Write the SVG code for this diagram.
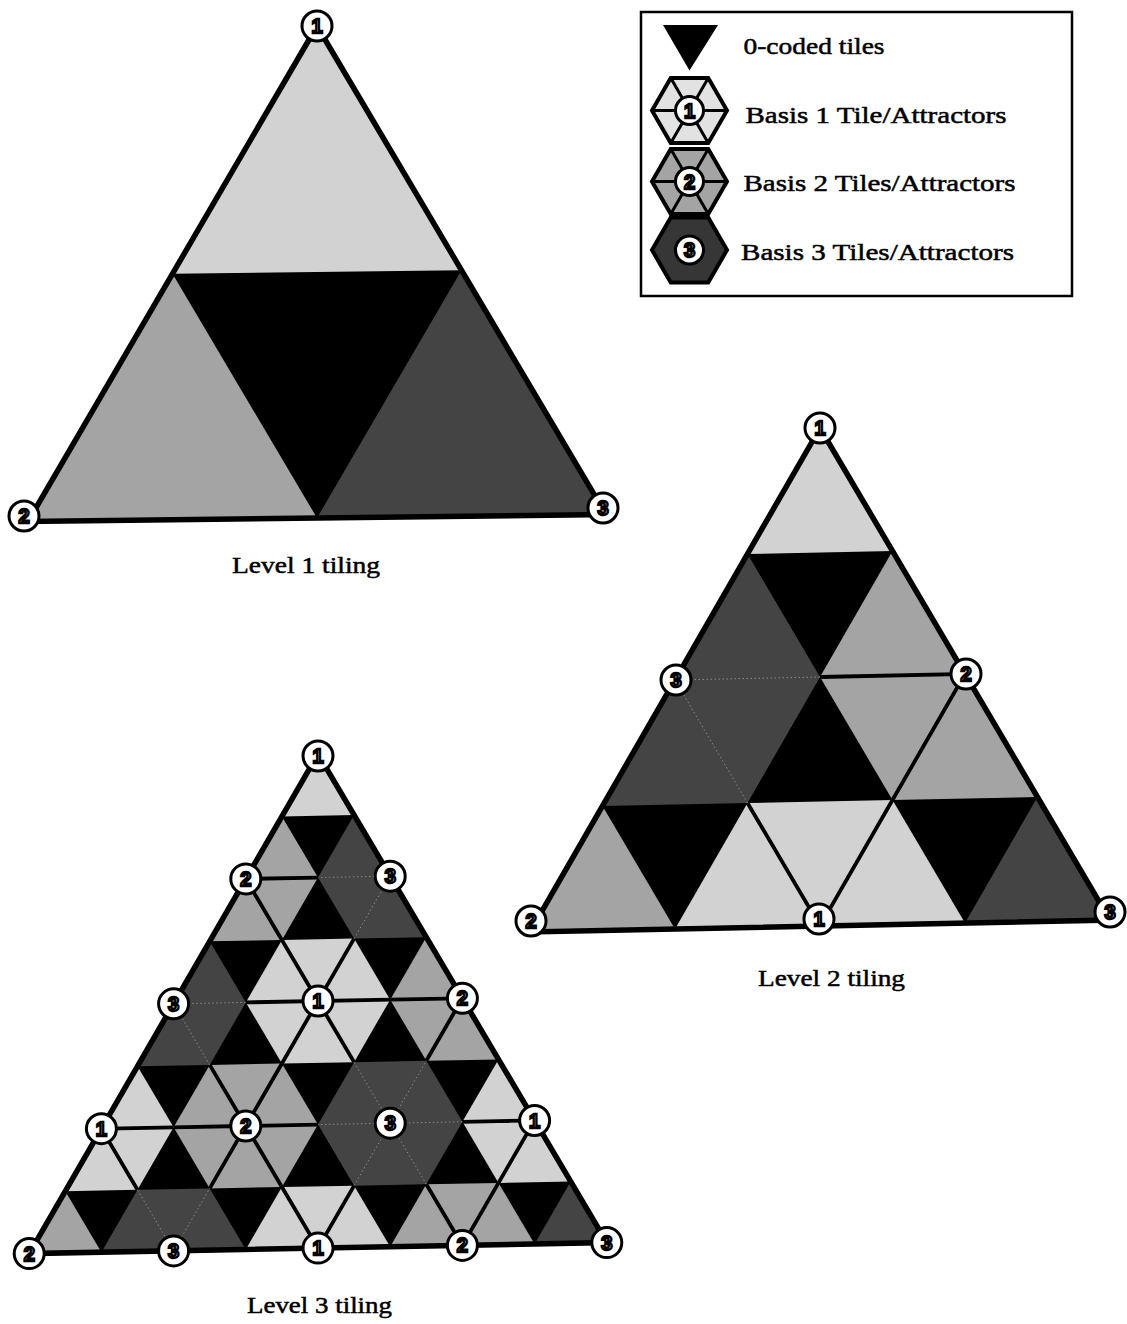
<svg xmlns="http://www.w3.org/2000/svg" width="1127" height="1324" viewBox="0 0 1127 1324">
<style>
.bg{fill:#000}
.L{fill:#d2d2d2}
.LL{fill:#e2e2e2}
.M{fill:#a4a4a4}
.D{fill:#444}
.DD{fill:#363636}
.sp{fill:none;stroke:#000;stroke-width:3.8}
.sp3{fill:none;stroke:#8c8c8c;stroke-width:1;stroke-dasharray:1.5 2.5}
.bd{fill:none;stroke:#000;stroke-width:5.5;stroke-linejoin:miter;vector-effect:non-scaling-stroke}
.c{fill:#fff;stroke:#000;stroke-width:3}
.d{font-family:"Liberation Sans",Arial,sans-serif;font-weight:bold;font-size:20px;fill:#fff;stroke:#000;stroke-width:2.3;text-anchor:middle}
.t{font-family:"Liberation Serif","Times New Roman",serif;font-size:24px;fill:#000;stroke:#000;stroke-width:0.5}
.hxo{stroke:#000;stroke-width:4;stroke-linejoin:miter}
.lsp{stroke:#000;stroke-width:3}
</style>
<defs>
<polygon id="hx" points="1,0 1,1 0,1 -1,0 -1,-1 0,-1"/>
<path id="spk" vector-effect="non-scaling-stroke" d="M1,0L-1,0M1,1L-1,-1M0,1L0,-1"/>
<clipPath id="c1"><polygon points="0,0 0,2 2,2"/></clipPath>
<clipPath id="c2"><polygon points="0,0 0,4 4,4"/></clipPath>
<clipPath id="c3"><polygon points="0,0 0,8 8,8"/></clipPath>
</defs>

<!-- Level 1 -->
<g id="level1">
<g transform="matrix(289,-3.5,-144.5,247.75,317,26)">
<polygon class="bg" points="0,0 0,2 2,2"/>
<g clip-path="url(#c1)">
<g id="l1-a1"><use href="#hx" class="L"/></g>
<g id="l1-a2"><use href="#hx" class="M" transform="translate(0,2)"/></g>
<g id="l1-a3"><use href="#hx" class="D" transform="translate(2,2)"/></g>
</g>
<polygon class="bd" points="0,0 0,2 2,2"/>
</g>
<g id="l1-v1"><circle class="c" cx="317" cy="26" r="15"/><text class="d" x="317" y="33">1</text></g>
<g id="l1-v2"><circle class="c" cx="24" cy="516" r="15"/><text class="d" x="24" y="523">2</text></g>
<g id="l1-v3"><circle class="c" cx="603" cy="508" r="15"/><text class="d" x="603" y="515">3</text></g>
<text class="t" x="232" y="573" textLength="148" lengthAdjust="spacingAndGlyphs">Level 1 tiling</text>
</g>

<!-- Level 2 -->
<g id="level2">
<g transform="matrix(145,-3,-72.5,126,820,428)">
<polygon class="bg" points="0,0 0,4 4,4"/>
<g clip-path="url(#c2)">
<g id="l2-a00"><use href="#hx" class="L"/></g>
<g id="l2-a02"><use href="#hx" class="D" transform="translate(0,2)"/><use href="#spk" class="sp3" transform="translate(0,2)"/></g>
<g id="l2-a22"><use href="#hx" class="M" transform="translate(2,2)"/><use href="#spk" class="sp" transform="translate(2,2)"/></g>
<g id="l2-a04"><use href="#hx" class="M" transform="translate(0,4)"/></g>
<g id="l2-a24"><use href="#hx" class="L" transform="translate(2,4)"/><use href="#spk" class="sp" transform="translate(2,4)"/></g>
<g id="l2-a44"><use href="#hx" class="D" transform="translate(4,4)"/></g>
</g>
<polygon class="bd" points="0,0 0,4 4,4"/>
</g>
<g id="l2-v00"><circle class="c" cx="820" cy="428" r="15"/><text class="d" x="820" y="435">1</text></g>
<g id="l2-v02"><circle class="c" cx="676" cy="680" r="15"/><text class="d" x="676" y="687">3</text></g>
<g id="l2-v22"><circle class="c" cx="966" cy="674" r="15"/><text class="d" x="966" y="681">2</text></g>
<g id="l2-v04"><circle class="c" cx="531" cy="921" r="15"/><text class="d" x="531" y="928">2</text></g>
<g id="l2-v24"><circle class="c" cx="819" cy="919" r="15"/><text class="d" x="819" y="926">1</text></g>
<g id="l2-v44"><circle class="c" cx="1110" cy="912" r="15"/><text class="d" x="1110" y="919">3</text></g>
<text class="t" x="758" y="986" textLength="147" lengthAdjust="spacingAndGlyphs">Level 2 tiling</text>
</g>

<!-- Level 3 -->
<g id="level3">
<g transform="matrix(72.2,-1.375,-36.1,62.45,318,754)">
<polygon class="bg" points="0,0 0,8 8,8"/>
<g clip-path="url(#c3)">
<g id="l3-a00"><use href="#hx" class="L"/></g>
<g id="l3-a02"><use href="#hx" class="M" transform="translate(0,2)"/><use href="#spk" class="sp" transform="translate(0,2)"/></g>
<g id="l3-a22"><use href="#hx" class="D" transform="translate(2,2)"/><use href="#spk" class="sp3" transform="translate(2,2)"/></g>
<g id="l3-a04"><use href="#hx" class="D" transform="translate(0,4)"/><use href="#spk" class="sp3" transform="translate(0,4)"/></g>
<g id="l3-a24"><use href="#hx" class="L" transform="translate(2,4)"/><use href="#spk" class="sp" transform="translate(2,4)"/></g>
<g id="l3-a44"><use href="#hx" class="M" transform="translate(4,4)"/><use href="#spk" class="sp" transform="translate(4,4)"/></g>
<g id="l3-a06"><use href="#hx" class="L" transform="translate(0,6)"/><use href="#spk" class="sp" transform="translate(0,6)"/></g>
<g id="l3-a26"><use href="#hx" class="M" transform="translate(2,6)"/><use href="#spk" class="sp" transform="translate(2,6)"/></g>
<g id="l3-a46"><use href="#hx" class="D" transform="translate(4,6)"/><use href="#spk" class="sp3" transform="translate(4,6)"/></g>
<g id="l3-a66"><use href="#hx" class="L" transform="translate(6,6)"/><use href="#spk" class="sp" transform="translate(6,6)"/></g>
<g id="l3-a08"><use href="#hx" class="M" transform="translate(0,8)"/></g>
<g id="l3-a28"><use href="#hx" class="D" transform="translate(2,8)"/><use href="#spk" class="sp3" transform="translate(2,8)"/></g>
<g id="l3-a48"><use href="#hx" class="L" transform="translate(4,8)"/><use href="#spk" class="sp" transform="translate(4,8)"/></g>
<g id="l3-a68"><use href="#hx" class="M" transform="translate(6,8)"/><use href="#spk" class="sp" transform="translate(6,8)"/></g>
<g id="l3-a88"><use href="#hx" class="D" transform="translate(8,8)"/></g>
</g>
<polygon class="bd" points="0,0 0,8 8,8"/>
</g>
<g id="l3-v00"><circle class="c" cx="318" cy="756" r="15"/><text class="d" x="318" y="763">1</text></g>
<g id="l3-v02"><circle class="c" cx="245.8" cy="878.9" r="15"/><text class="d" x="245.8" y="885.9">2</text></g>
<g id="l3-v22"><circle class="c" cx="390.2" cy="876.2" r="15"/><text class="d" x="390.2" y="883.2">3</text></g>
<g id="l3-v04"><circle class="c" cx="173.6" cy="1003.8" r="15"/><text class="d" x="173.6" y="1010.8">3</text></g>
<g id="l3-v24"><circle class="c" cx="318" cy="1001" r="15"/><text class="d" x="318" y="1008">1</text></g>
<g id="l3-v44"><circle class="c" cx="462.4" cy="998.3" r="15"/><text class="d" x="462.4" y="1005.3">2</text></g>
<g id="l3-v06"><circle class="c" cx="101.4" cy="1128.7" r="15"/><text class="d" x="101.4" y="1135.7">1</text></g>
<g id="l3-v26"><circle class="c" cx="245.8" cy="1126" r="15"/><text class="d" x="245.8" y="1133">2</text></g>
<g id="l3-v46"><circle class="c" cx="390.2" cy="1123.2" r="15"/><text class="d" x="390.2" y="1130.2">3</text></g>
<g id="l3-v66"><circle class="c" cx="534.6" cy="1120.5" r="15"/><text class="d" x="534.6" y="1127.5">1</text></g>
<g id="l3-v08"><circle class="c" cx="29.2" cy="1253.6" r="15"/><text class="d" x="29.2" y="1260.6">2</text></g>
<g id="l3-v28"><circle class="c" cx="173.6" cy="1250.9" r="15"/><text class="d" x="173.6" y="1257.9">3</text></g>
<g id="l3-v48"><circle class="c" cx="318" cy="1248.1" r="15"/><text class="d" x="318" y="1255.1">1</text></g>
<g id="l3-v68"><circle class="c" cx="462.4" cy="1245.4" r="15"/><text class="d" x="462.4" y="1252.4">2</text></g>
<g id="l3-v88"><circle class="c" cx="606.8" cy="1242.6" r="15"/><text class="d" x="606.8" y="1249.6">3</text></g>
<text class="t" x="247" y="1313" textLength="145" lengthAdjust="spacingAndGlyphs">Level 3 tiling</text>
</g>

<!-- Legend -->
<g id="legend">
<rect x="641" y="12" width="431" height="284" fill="#fff" stroke="#000" stroke-width="2.5"/>
<g id="leg-0">
<polygon points="663,25 718,25 689.5,70.5" fill="#000"/>
<text class="t" x="743.5" y="53.5" textLength="141" lengthAdjust="spacingAndGlyphs">0-coded tiles</text>
</g>
<g id="leg-1">
<polygon class="LL hxo" points="652,110.5 670.75,78 708.25,78 727,110.5 708.25,143 670.75,143"/>
<path class="lsp" d="M652,110.5L727,110.5M670.75,78L708.25,143M708.25,78L670.75,143"/>
<circle class="c" cx="689.5" cy="110.5" r="14"/><text class="d" x="689.5" y="117.5">1</text>
<text class="t" x="745.5" y="122.5" textLength="261" lengthAdjust="spacingAndGlyphs">Basis 1 Tile/Attractors</text>
</g>
<g id="leg-2">
<polygon class="M hxo" points="652,181.5 670.75,149 708.25,149 727,181.5 708.25,214 670.75,214"/>
<path class="lsp" d="M652,181.5L727,181.5M670.75,149L708.25,214M708.25,149L670.75,214"/>
<circle class="c" cx="689.5" cy="181.5" r="14"/><text class="d" x="689.5" y="188.5">2</text>
<text class="t" x="743.5" y="190.5" textLength="272" lengthAdjust="spacingAndGlyphs">Basis 2 Tiles/Attractors</text>
</g>
<g id="leg-3">
<polygon class="DD hxo" points="652,250 670.75,217.5 708.25,217.5 727,250 708.25,282.5 670.75,282.5"/>
<circle class="c" cx="689.5" cy="250" r="14"/><text class="d" x="689.5" y="257">3</text>
<text class="t" x="741" y="259.5" textLength="273" lengthAdjust="spacingAndGlyphs">Basis 3 Tiles/Attractors</text>
</g>
</g>
</svg>
